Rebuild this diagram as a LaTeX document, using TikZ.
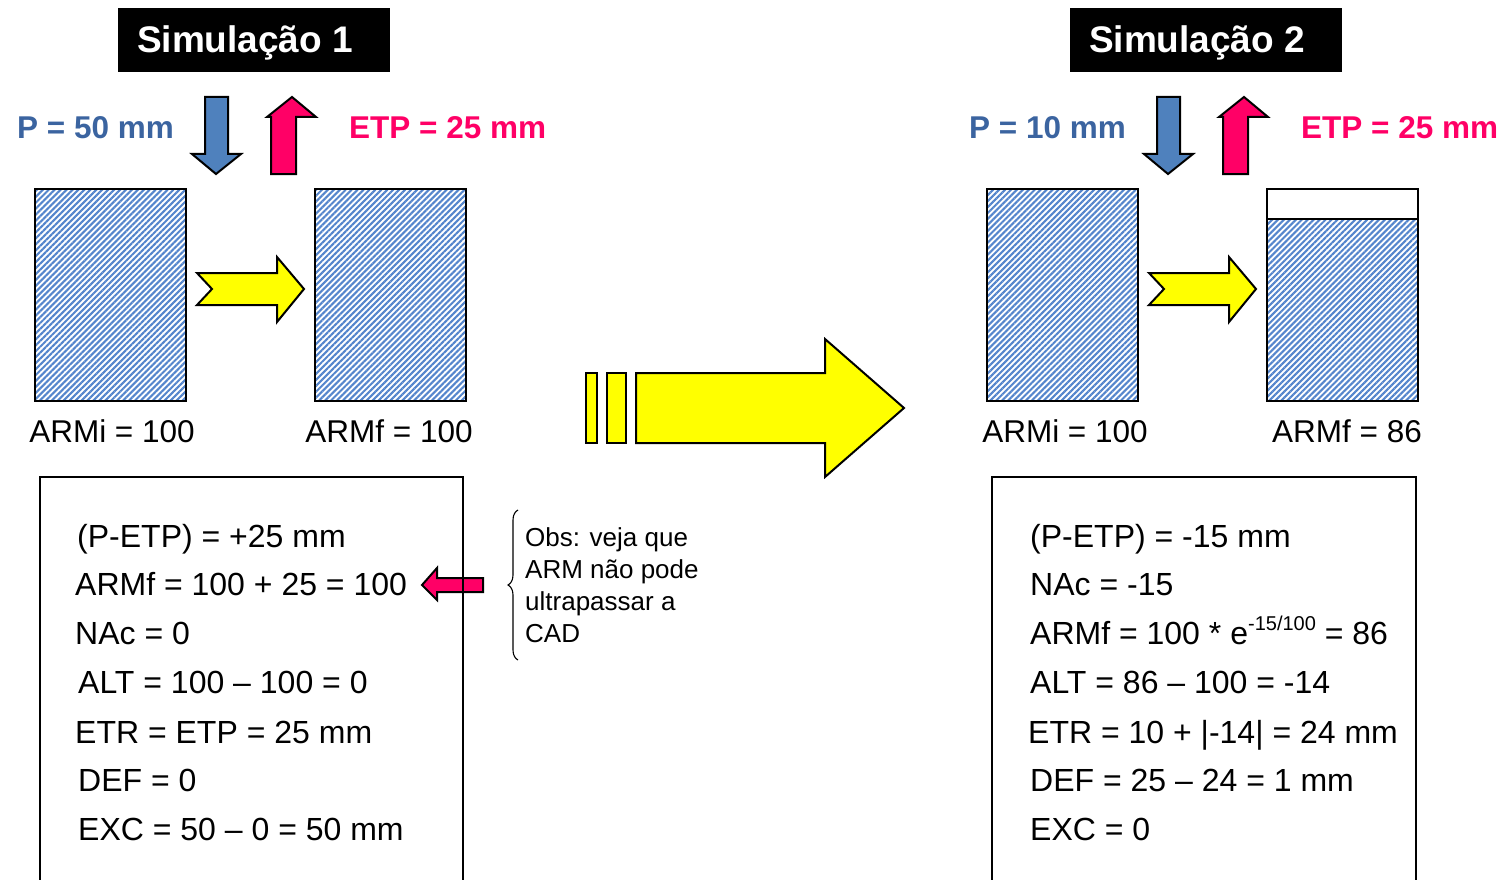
\documentclass[tikz,border=0pt]{standalone}
\usepackage{fontspec}
\setmainfont{Liberation Sans}
\usetikzlibrary{patterns.meta,decorations.pathreplacing}
\definecolor{hatchblue}{HTML}{5485CC}
\definecolor{arrowblue}{HTML}{4F81BD}
\definecolor{textblue}{HTML}{3B64A0}
\definecolor{hotpink}{HTML}{FF0066}
\definecolor{arrowyellow}{HTML}{FFFF00}
\tikzset{
	hatched/.style={draw=black, line width=1.5pt, pattern={Lines[angle=45,distance=4.2pt,line width=2.1pt]}, pattern color=hatchblue},
	blockarr/.style={draw=black, line width=2pt, line join=miter},
	titlebox/.style={fill=black},
	titletxt/.style={text=white, inner sep=0pt, anchor=base, font=\bfseries\fontsize{37}{40}\selectfont},
	rain/.style={text=textblue, inner sep=0pt, anchor=base west, font=\bfseries\fontsize{31.5}{36}\selectfont},
	evap/.style={text=hotpink, inner sep=0pt, anchor=base west, font=\bfseries\fontsize{31.5}{36}\selectfont},
	armlbl/.style={anchor=base, inner sep=0pt, font=\fontsize{31.5}{36}\selectfont},
	calc/.style={anchor=base west, inner sep=0pt, font=\fontsize{32}{36}\selectfont},
	obs/.style={anchor=base west, inner sep=0pt, font=\fontsize{26}{32}\selectfont}
}
\begin{document}
\begin{tikzpicture}[x=1pt,y=-1pt]
	\useasboundingbox (0,0) rectangle (1507,880);
	% parts shared by both simulations
	\foreach \dx in {0,952} {
	\fill[titlebox] (118+\dx,8) rectangle (390+\dx,72);
	\draw[blockarr, fill=arrowblue] (205+\dx,97) -- (228+\dx,97) -- (228+\dx,154) -- (241+\dx,154) -- (216+\dx,174) -- (192+\dx,154) -- (205+\dx,154) -- cycle;
	\draw[blockarr, fill=hotpink] (271+\dx,174) -- (296+\dx,174) -- (296+\dx,117) -- (316+\dx,117) -- (292+\dx,97) -- (267+\dx,117) -- (271+\dx,117) -- cycle;
	\draw[hatched] (35+\dx,189) rectangle (186+\dx,401);
	\draw[blockarr, fill=arrowyellow] (197+\dx,273) -- (277+\dx,273) -- (277+\dx,257) -- (304+\dx,289) -- (277+\dx,322) -- (277+\dx,305) -- (197+\dx,305) -- (212+\dx,289) -- cycle;
	}
	\draw[hatched] (315,189) rectangle (466,401);
	\draw[hatched] (1267,219) rectangle (1418,401);
	\draw[line width=1.5pt, fill=white] (1267,189) rectangle (1418,219);
	% titles and inputs
	\node[titletxt] (tit1) at (245,53) {Simulação 1};
	\node[titletxt] (tit2) at (1197,53) {Simulação 2};
	\node[rain] (p1) at (17,139) {P = 50 mm};
	\node[evap] (etp1) at (349,139) {ETP = 25 mm};
	\node[rain] (p2) at (969,139) {P = 10 mm};
	\node[evap] (etp2) at (1301,139) {ETP = 25 mm};
	\node[armlbl] (armi1) at (112,442) {ARMi = 100};
	\node[armlbl] (armf1) at (389,442) {ARMf = 100};
	\node[armlbl] (armi2) at (1065,442) {ARMi = 100};
	\node[armlbl] (armf2) at (1347,442) {ARMf = 86};
	% big arrow between the simulations
	\draw[blockarr, fill=arrowyellow] (586,373) rectangle (597,443);
	\draw[blockarr, fill=arrowyellow] (607,373) rectangle (626,443);
	\draw[blockarr, fill=arrowyellow] (636,373) -- (825,373) -- (825,339) -- (904,408) -- (825,477) -- (825,443) -- (636,443) -- cycle;
	% calculation boxes
	\draw[blockarr, fill=hotpink] (483,578) -- (437,578) -- (437,568) -- (422,585) -- (437,600) -- (437,592) -- (483,592) -- cycle;
	\draw[line width=1.5pt] (40,882) -- (40,477) -- (463,477) -- (463,882);
	\draw[line width=1.5pt] (992,882) -- (992,477) -- (1416,477) -- (1416,882);
	\node[calc] (c11) at (77,547) {(P-ETP) = +25 mm};
	\node[calc] (c12) at (75,595) {ARMf = 100 + 25 = 100};
	\node[calc] (c13) at (75,644) {NAc = 0};
	\node[calc] (c14) at (78,693) {ALT = 100 – 100 = 0};
	\node[calc] (c15) at (75,743) {ETR = ETP = 25 mm};
	\node[calc] (c16) at (78,791) {DEF = 0};
	\node[calc] (c17) at (78,840) {EXC = 50 – 0 = 50 mm};
	\node[calc] (c21) at (1030,547) {(P-ETP) = -15 mm};
	\node[calc] (c22) at (1030,595) {NAc = -15};
	\node[calc] (c23) at (1030,644) {ARMf = 100 * e\raisebox{0.42em}{\fontsize{20}{20}\selectfont -15/100} = 86};
	\node[calc] (c24) at (1030,693) {ALT = 86 – 100 = -14};
	\node[calc] (c25) at (1028,743) {ETR = 10 + |-14| = 24 mm};
	\node[calc] (c26) at (1030,791) {DEF = 25 – 24 = 1 mm};
	\node[calc] (c27) at (1030,840) {EXC = 0};
	% note
	\draw[decorate, decoration={brace, amplitude=10pt}, line width=1.1pt] (518,660) -- (518,510);
	\node[obs] (obs1) at (525,546) {Obs: veja que};
	\node[obs] (obs2) at (525,578) {ARM não pode};
	\node[obs] (obs3) at (525,610) {ultrapassar a};
	\node[obs] (obs4) at (525,642) {CAD};
\end{tikzpicture}
\end{document}
